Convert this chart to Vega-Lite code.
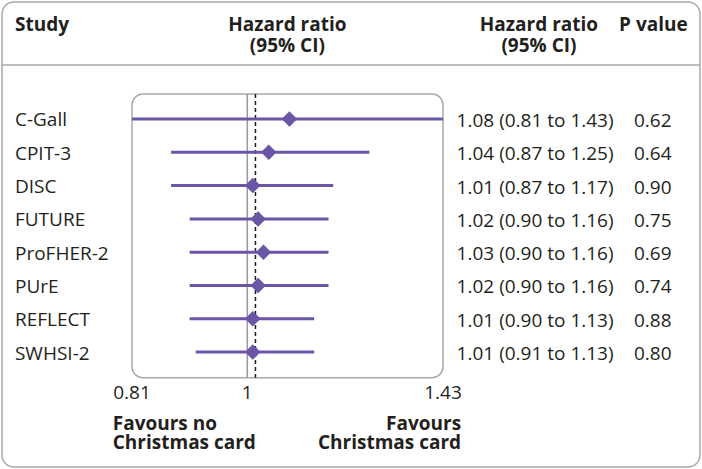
{
  "$schema": "https://vega.github.io/schema/vega-lite/v6.json",
  "autosize": {"type": "none"},
  "padding": 2,
  "width": 698,
  "height": 465,
  "background": "white",
  "data": {"values": [
    {"study": "C-Gall", "row": 1, "hr": 1.08, "lo": 0.81, "hi": 1.43, "label": "1.08 (0.81 to 1.43)", "p": 0.62},
    {"study": "CPIT-3", "row": 2, "hr": 1.04, "lo": 0.87, "hi": 1.25, "label": "1.04 (0.87 to 1.25)", "p": 0.64},
    {"study": "DISC", "row": 3, "hr": 1.01, "lo": 0.87, "hi": 1.17, "label": "1.01 (0.87 to 1.17)", "p": 0.90},
    {"study": "FUTURE", "row": 4, "hr": 1.02, "lo": 0.90, "hi": 1.16, "label": "1.02 (0.90 to 1.16)", "p": 0.75},
    {"study": "ProFHER-2", "row": 5, "hr": 1.03, "lo": 0.90, "hi": 1.16, "label": "1.03 (0.90 to 1.16)", "p": 0.69},
    {"study": "PUrE", "row": 6, "hr": 1.02, "lo": 0.90, "hi": 1.16, "label": "1.02 (0.90 to 1.16)", "p": 0.74},
    {"study": "REFLECT", "row": 7, "hr": 1.01, "lo": 0.90, "hi": 1.13, "label": "1.01 (0.90 to 1.13)", "p": 0.88},
    {"study": "SWHSI-2", "row": 8, "hr": 1.01, "lo": 0.91, "hi": 1.13, "label": "1.01 (0.91 to 1.13)", "p": 0.80}
  ]},
  "layer": [
    {
      "data": {"values": [{}]},
      "mark": {"type": "rect", "fillOpacity": 0, "stroke": "#a9a9a9", "strokeWidth": 1.5, "cornerRadius": 11},
      "encoding": {
        "x": {"datum": 0.81, "type": "quantitative", "scale": {"type": "log", "domain": [0.6387, 2.2872], "nice": false, "zero": false}, "axis": null},
        "x2": {"datum": 1.43},
        "y": {"datum": 0.25, "type": "quantitative", "scale": {"domain": [-2.5135, 11.4505], "reverse": true, "nice": false, "zero": false}, "axis": null},
        "y2": {"datum": 8.77}
      }
    },
    {
      "data": {"values": [{}]},
      "mark": {"type": "rule", "stroke": "#9a9a9a", "strokeWidth": 1.5},
      "encoding": {
        "x": {"datum": 1, "type": "quantitative"},
        "y": {"datum": 0.25, "type": "quantitative"},
        "y2": {"datum": 8.77}
      }
    },
    {
      "data": {"values": [{}]},
      "mark": {"type": "rule", "stroke": "#1a1a1a", "strokeWidth": 1.5, "strokeDash": [4, 3]},
      "encoding": {
        "x": {"datum": 1.015, "type": "quantitative"},
        "y": {"datum": 0.25, "type": "quantitative"},
        "y2": {"datum": 8.77}
      }
    },
    {
      "mark": {"type": "rule", "stroke": "#6a55a6", "strokeWidth": 3},
      "encoding": {
        "x": {"field": "lo", "type": "quantitative"},
        "x2": {"field": "hi"},
        "y": {"field": "row", "type": "quantitative"}
      }
    },
    {
      "mark": {"type": "point", "shape": "diamond", "filled": true, "size": 240, "color": "#6a55a6", "opacity": 1},
      "encoding": {
        "x": {"field": "hr", "type": "quantitative"},
        "y": {"field": "row", "type": "quantitative"}
      }
    },
    {
      "mark": {"type": "text", "align": "left", "baseline": "alphabetic", "dy": 7.5},
      "encoding": {
        "x": {"datum": 0.654, "type": "quantitative"},
        "y": {"field": "row", "type": "quantitative"},
        "text": {"field": "study"}
      }
    },
    {
      "mark": {"type": "text", "align": "left", "baseline": "alphabetic", "dy": 8},
      "encoding": {
        "x": {"datum": 1.466, "type": "quantitative"},
        "y": {"field": "row", "type": "quantitative"},
        "text": {"field": "label"}
      }
    },
    {
      "mark": {"type": "text", "align": "left", "baseline": "alphabetic", "dy": 8},
      "encoding": {
        "x": {"datum": 2.027, "type": "quantitative"},
        "y": {"field": "row", "type": "quantitative"},
        "text": {"field": "p", "format": ".2f"}
      }
    },
    {
      "data": {"values": [{}]},
      "mark": {"type": "text", "align": "left", "baseline": "alphabetic", "fontWeight": "bold", "text": "Study"},
      "encoding": {
        "x": {"datum": 0.654, "type": "quantitative"},
        "y": {"datum": -1.652, "type": "quantitative"}
      }
    },
    {
      "data": {"values": [{}]},
      "mark": {"type": "text", "align": "center", "baseline": "alphabetic", "fontWeight": "bold", "text": "Hazard ratio"},
      "encoding": {
        "x": {"datum": 1.076, "type": "quantitative"},
        "y": {"datum": -1.652, "type": "quantitative"}
      }
    },
    {
      "data": {"values": [{}]},
      "mark": {"type": "text", "align": "center", "baseline": "alphabetic", "fontWeight": "bold", "text": "(95% CI)"},
      "encoding": {
        "x": {"datum": 1.076, "type": "quantitative"},
        "y": {"datum": -1.02, "type": "quantitative"}
      }
    },
    {
      "data": {"values": [{}]},
      "mark": {"type": "text", "align": "center", "baseline": "alphabetic", "fontWeight": "bold", "text": "Hazard ratio"},
      "encoding": {
        "x": {"datum": 1.704, "type": "quantitative"},
        "y": {"datum": -1.652, "type": "quantitative"}
      }
    },
    {
      "data": {"values": [{}]},
      "mark": {"type": "text", "align": "center", "baseline": "alphabetic", "fontWeight": "bold", "text": "(95% CI)"},
      "encoding": {
        "x": {"datum": 1.704, "type": "quantitative"},
        "y": {"datum": -1.02, "type": "quantitative"}
      }
    },
    {
      "data": {"values": [{}]},
      "mark": {"type": "text", "align": "left", "baseline": "alphabetic", "fontWeight": "bold", "text": "P value"},
      "encoding": {
        "x": {"datum": 1.9726, "type": "quantitative"},
        "y": {"datum": -1.652, "type": "quantitative"}
      }
    },
    {
      "data": {"values": [{}]},
      "mark": {"type": "rule", "stroke": "#a9a9a9", "strokeWidth": 1.5},
      "encoding": {
        "y": {"datum": -0.62, "type": "quantitative"}
      }
    },
    {
      "data": {"values": [{"tick": 0.81}, {"tick": 1}, {"tick": 1.43}]},
      "mark": {"type": "text", "align": "center", "baseline": "alphabetic"},
      "encoding": {
        "x": {"field": "tick", "type": "quantitative"},
        "y": {"datum": 9.409, "type": "quantitative"},
        "text": {"field": "tick", "type": "quantitative"}
      }
    },
    {
      "data": {"values": [{}]},
      "mark": {"type": "text", "align": "left", "baseline": "alphabetic", "fontWeight": "bold", "text": "Favours no"},
      "encoding": {
        "x": {"datum": 0.782, "type": "quantitative"},
        "y": {"datum": 10.34, "type": "quantitative"}
      }
    },
    {
      "data": {"values": [{}]},
      "mark": {"type": "text", "align": "left", "baseline": "alphabetic", "fontWeight": "bold", "text": "Christmas card"},
      "encoding": {
        "x": {"datum": 0.782, "type": "quantitative"},
        "y": {"datum": 10.91, "type": "quantitative"}
      }
    },
    {
      "data": {"values": [{}]},
      "mark": {"type": "text", "align": "right", "baseline": "alphabetic", "fontWeight": "bold", "text": "Favours"},
      "encoding": {
        "x": {"datum": 1.478, "type": "quantitative"},
        "y": {"datum": 10.34, "type": "quantitative"}
      }
    },
    {
      "data": {"values": [{}]},
      "mark": {"type": "text", "align": "right", "baseline": "alphabetic", "fontWeight": "bold", "text": "Christmas card"},
      "encoding": {
        "x": {"datum": 1.478, "type": "quantitative"},
        "y": {"datum": 10.91, "type": "quantitative"}
      }
    }
  ],
  "config": {
    "view": {"stroke": "#a9a9a9", "strokeWidth": 1.5, "cornerRadius": 12},
    "text": {"font": "Open Sans", "fontSize": 19, "color": "#231f20"}
  }
}
